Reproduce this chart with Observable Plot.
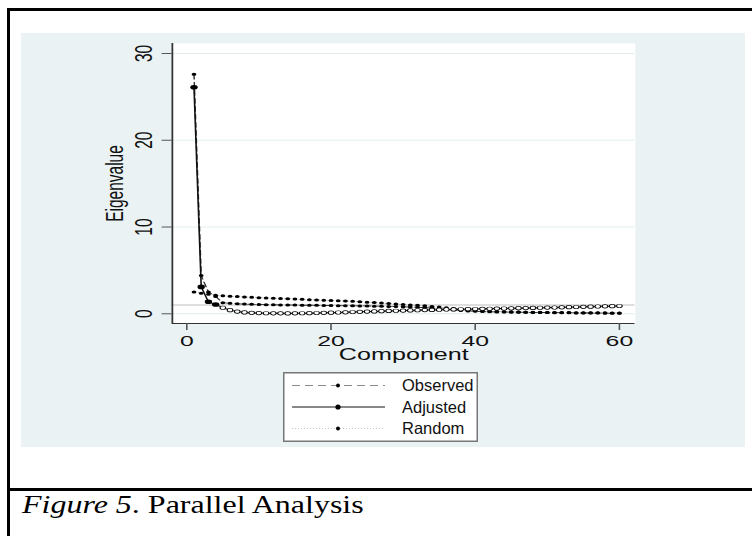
<!DOCTYPE html>
<html>
<head>
<meta charset="utf-8">
<script src="https://cdn.jsdelivr.net/npm/d3@7"></script>
<script src="https://cdn.jsdelivr.net/npm/@observablehq/plot@0.6"></script>
<style>
  html, body { margin: 0; padding: 0; background: #fff; }
  body { width: 752px; height: 536px; overflow: hidden; position: relative; }
  .frame { position: absolute; left: 7px; top: 8px; width: 800px; height: 560px;
           border-left: 3px solid #000; border-top: 3px solid #000; box-sizing: border-box; }
  .hline { position: absolute; left: 7px; top: 487.5px; width: 800px; height: 3px; background: #000; }
  .panel { position: absolute; left: 21px; top: 33px; width: 724px; height: 414px; background: #eaf2f3; }
  #chart { position: absolute; left: 21px; top: 33px; }
  #legend { position: absolute; left: 283px; top: 372px; }
  .caption { position: absolute; left: 22px; top: 492px; font-family: "Liberation Serif", "Times New Roman", serif;
             font-size: 26px; line-height: 26px; color: #000; white-space: nowrap;
             transform: scaleX(1.23); transform-origin: left top; }
</style>
</head>
<body>
<div class="frame"></div>
<div class="hline"></div>
<div class="panel"></div>
<div id="chart"></div>
<div id="legend"></div>
<div class="caption"><i>Figure 5</i>. Parallel Analysis</div>
<script>
// ---- data ----
const components = [1,2,3,4,5,6,7,8,9,10,11,12,13,14,15,16,17,18,19,20,21,22,23,24,25,26,27,28,29,30,
  31,32,33,34,35,36,37,38,39,40,41,42,43,44,45,46,47,48,49,50,51,52,53,54,55,56,57,58,59,60];
const observed = [27.6,4.4,2.5,2.0,1.28,1.2,1.15,1.12,1.09,1.07,1.05,1.04,1.02,1.01,1.0,0.99,0.98,0.97,0.96,0.95,
  0.94,0.93,0.92,0.91,0.9,0.88,0.87,0.85,0.83,0.81,0.78,0.75,0.71,0.66,0.6,0.53,0.46,0.39,0.33,0.28,
  0.25,0.23,0.21,0.2,0.19,0.18,0.17,0.16,0.15,0.14,0.13,0.12,0.11,0.1,0.09,0.08,0.08,0.07,0.07,0.06];
const adjusted = [26.1,3.1,1.38,1.07,0.7,0.42,0.25,0.16,0.11,0.08,0.06,0.05,0.05,0.04,0.05,0.06,0.07,0.09,0.11,0.13,
  0.15,0.17,0.2,0.22,0.25,0.27,0.3,0.33,0.35,0.37,0.39,0.41,0.43,0.45,0.47,0.49,0.5,0.52,0.53,0.55,
  0.57,0.58,0.6,0.61,0.63,0.65,0.66,0.68,0.69,0.71,0.72,0.74,0.76,0.78,0.8,0.82,0.84,0.86,0.88,0.9];
const random = [2.52,2.38,2.26,2.15,2.07,2.02,1.98,1.94,1.9,1.86,1.83,1.8,1.77,1.73,1.7,1.67,1.63,1.6,1.57,1.54,
  1.5,1.47,1.43,1.38,1.34,1.29,1.24,1.19,1.13,1.07,1.02,0.97,0.92,0.85,0.77,0.69,0.61,0.53,0.45,0.38,
  0.33,0.29,0.26,0.24,0.22,0.2,0.19,0.18,0.17,0.16,0.15,0.14,0.14,0.13,0.12,0.12,0.11,0.11,0.1,0.1];
const xTicks = [0, 20, 40, 60];
const yTicks = [0, 10, 20, 30];
const seriesNames = ["Observed", "Adjusted", "Random"];
const referenceLine = [1];

// ---- layout ----
const S = 724 / 452;          // horizontal stretch of the exported graph
const W = 452, H = 335;
const xDomain = [-2, 62.2];
const yDomain = [-1.12, 31.15];

const rows = components.map((c, i) => ({c, obs: observed[i], adj: adjusted[i], rnd: random[i]}));

const plot = Plot.plot({
  width: W, height: H,
  marginLeft: 94, marginRight: 69, marginTop: 10, marginBottom: 45,
  x: {domain: xDomain},
  y: {domain: yDomain},
  style: {fontFamily: "'Liberation Sans', Arial, sans-serif", fontSize: "15.5px", color: "#111", background: "transparent", overflow: "visible"},
  marks: [
    Plot.frame({fill: "white", stroke: null}),
    Plot.gridY(yTicks, {stroke: "#e4eef0", strokeOpacity: 1, strokeWidth: 1}),
    Plot.ruleY(referenceLine, {stroke: "#bdbdbd", strokeWidth: 1}),
    Plot.ruleX([xDomain[0]], {stroke: "#333", strokeWidth: 1.1}),
    Plot.ruleY([yDomain[0]], {stroke: "#333", strokeWidth: 1.1}),
    Plot.axisY({ticks: yTicks, tickSize: 6.2, tickPadding: 6.3, tickRotate: -90, label: null, stroke: "#555"}),
    Plot.axisX({ticks: xTicks, tickSize: 7, tickPadding: 4, label: null, stroke: "#555"}),
    Plot.text(["Eigenvalue"], {frameAnchor: "left", rotate: -90, dx: -36, textAnchor: "middle", lineAnchor: "middle", fontSize: 15.5}),
    Plot.text(["Component"], {frameAnchor: "bottom", dy: 25, lineAnchor: "top", fontSize: 15.7}),
    Plot.line(rows, {x: "c", y: "rnd", stroke: "#aaa", strokeDasharray: "1,2", strokeWidth: 0.8}),
    Plot.line(rows, {x: "c", y: "obs", stroke: "#333", strokeDasharray: "5,3", strokeWidth: 0.9}),
    Plot.line(rows, {x: "c", y: "adj", stroke: "#111", strokeWidth: 1}),
    Plot.dot(rows, {x: "c", y: "rnd", r: 1.5, fill: "#000"}),
    Plot.dot(rows, {x: "c", y: "obs", r: 1.5, fill: "#000"}),
    Plot.dot(rows.filter(d => d.adj > 1), {x: "c", y: "adj", r: 2.3, fill: "#000"}),
    Plot.dot(rows.filter(d => d.adj <= 1), {x: "c", y: "adj", r: 1.75, fill: "white", stroke: "#000", strokeWidth: 0.65})
  ]
});
plot.setAttribute("preserveAspectRatio", "none");
plot.setAttribute("width", W * S);
plot.style.width = (W * S) + "px";
plot.style.height = H + "px";
plot.style.maxWidth = "none";
document.getElementById("chart").appendChild(plot);

// ---- legend ----
const legendStyles = {
  Observed: {stroke: "#8a8a8a", dash: "8,5", r: 2},
  Adjusted: {stroke: "#111", dash: null, r: 2.6},
  Random:   {stroke: "#c4c4c4", dash: "1,2", r: 2}
};
const LW = 195, LH = 70;
const ns = "http://www.w3.org/2000/svg";
const lg = document.createElementNS(ns, "svg");
lg.setAttribute("width", LW); lg.setAttribute("height", LH);
lg.style.display = "block";
let html = `<rect x="0.75" y="0.75" width="${LW - 1.5}" height="${LH - 1.5}" fill="white" stroke="#777" stroke-width="1.5"/>`;
seriesNames.forEach((name, i) => {
  const st = legendStyles[name];
  const cy = 13.5 + i * 21.5;
  html += `<line x1="9" x2="102" y1="${cy}" y2="${cy}" stroke="${st.stroke}" stroke-width="1" ${st.dash ? `stroke-dasharray="${st.dash}"` : ""}/>`;
  html += `<circle cx="55" cy="${cy}" r="${st.r}" fill="#000"/>`;
  html += `<text x="119" y="${cy + 5.8}" font-family="'Liberation Sans', Arial, sans-serif" font-size="16.5" fill="#111">${name}</text>`;
});
lg.innerHTML = html;
document.getElementById("legend").appendChild(lg);
</script>
</body>
</html>
